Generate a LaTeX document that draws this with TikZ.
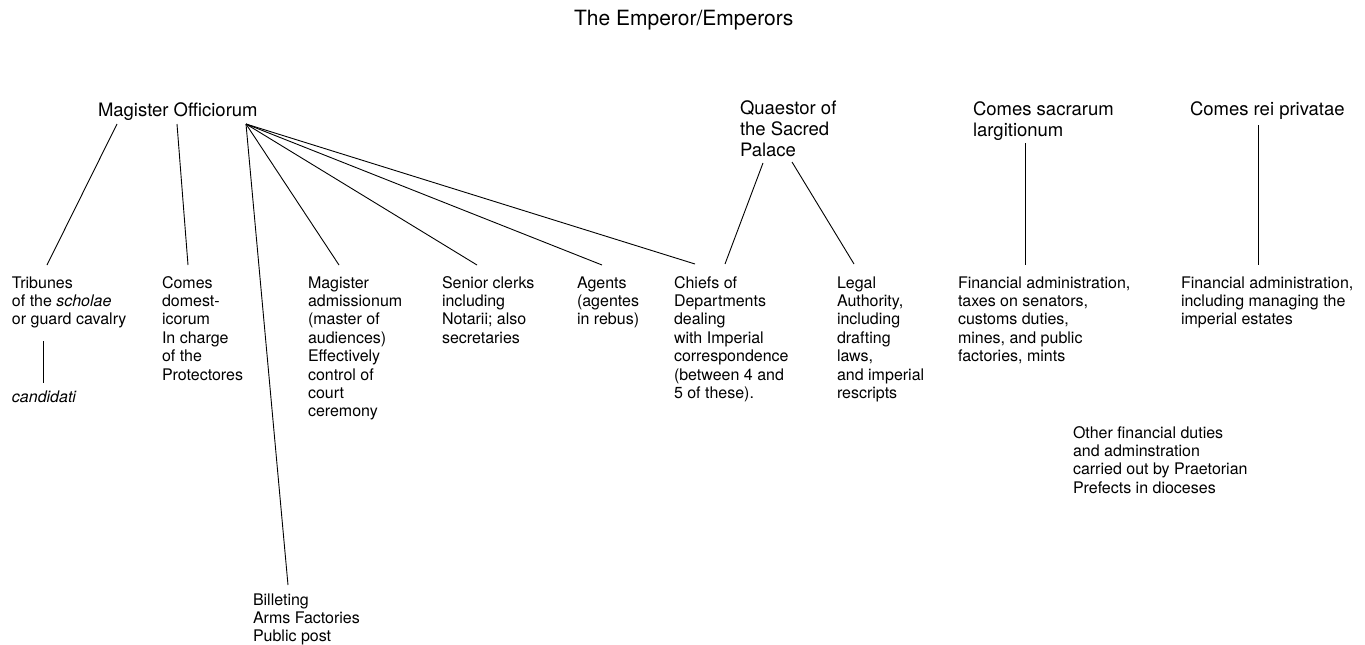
\documentclass[tikz,border=0pt]{standalone}
\usepackage{fontspec}
\setmainfont{TeX Gyre Heros}
% a left-aligned block of lines whose baseline is that of its first line
\newcommand\txtstack[1]{\begin{tabular}[t]{@{}l@{}}#1\end{tabular}}
\begin{document}
\begin{tikzpicture}[x=1pt,y=-1pt,
  every node/.style={inner sep=0pt,outer sep=0pt,anchor=base west,text=black},
  headtxt/.style={font=\fontsize{18.5}{21.3}\selectfont},
  titletxt/.style={font=\fontsize{21}{24}\selectfont},
  bodytxt/.style={font=\fontsize{16}{18.4}\selectfont},
  link/.style={draw=black,line width=0.9pt}]
\useasboundingbox (0,0) rectangle (1365,645);

% top of the hierarchy
\node[titletxt] (emp) at (574,25) {The Emperor/Emperors};

% chief officials
\node[headtxt] (mo)  at (98,116)   {Magister Officiorum};
\node[headtxt] (qsp) at (740,114)  {\txtstack{Quaestor of\\the Sacred\\Palace}};
\node[headtxt] (csl) at (973,115)  {\txtstack{Comes sacrarum\\largitionum}};
\node[headtxt] (crp) at (1190,115) {Comes rei privatae};

% departments and duties
\node[bodytxt] (tri)  at (12,288)  {\txtstack{Tribunes\\of the \textit{scholae}\\or guard cavalry}};
\node[bodytxt] (cand) at (12,402)  {\textit{candidati}};
\node[bodytxt] (cdom) at (162,288) {\txtstack{Comes\\domest-\\icorum\\In charge\\of the\\Protectores}};
\node[bodytxt] (madm) at (308,288) {\txtstack{Magister\\admissionum\\(master of\\audiences)\\Effectively\\control of\\court\\ceremony}};
\node[bodytxt] (bil)  at (253,605) {\txtstack{Billeting\\Arms Factories\\Public post}};
\node[bodytxt] (sen)  at (442,288) {\txtstack{Senior clerks\\including\\Notarii; also\\secretaries}};
\node[bodytxt] (agt)  at (577,288) {\txtstack{Agents\\(agentes\\in rebus)}};
\node[bodytxt] (chf)  at (674,288) {\txtstack{Chiefs of\\Departments\\dealing\\with Imperial\\correspondence\\(between 4 and\\5 of these).}};
\node[bodytxt] (leg)  at (837,288) {\txtstack{Legal\\Authority,\\including\\drafting\\laws,\\and imperial\\rescripts}};
\node[bodytxt] (fin1) at (958,288) {\txtstack{Financial administration,\\taxes on senators,\\customs duties,\\mines, and public\\factories, mints}};
\node[bodytxt] (fin2) at (1181,288) {\txtstack{Financial administration,\\including managing the\\imperial estates}};
\node[bodytxt] (oth)  at (1073,438) {\txtstack{Other financial duties\\and adminstration\\carried out by Praetorian\\Prefects in dioceses}};

% connector end points
\coordinate (mo-l)   at (117,124);
\coordinate (mo-m)   at (177,124);
\coordinate (mo-hub) at (246,124);
\coordinate (tri-t)  at (47,265);
\coordinate (tri-b)  at (43,341);
\coordinate (cand-t) at (43,383);
\coordinate (cdom-t) at (188,265);
\coordinate (madm-t) at (339,265);
\coordinate (bil-t)  at (288,585);
\coordinate (sen-t)  at (477,265);
\coordinate (agt-t)  at (602,265);
\coordinate (chf-t)  at (695,264);
\coordinate (chf-q)  at (725,264);
\coordinate (qsp-l)  at (763,163);
\coordinate (qsp-r)  at (792,162);
\coordinate (leg-t)  at (854,264);
\coordinate (csl-b)  at (1025,143);
\coordinate (fin1-t) at (1025,265);
\coordinate (crp-b)  at (1258,125);
\coordinate (fin2-t) at (1258,265);

% connectors
\draw[link] (mo-l) -- (tri-t);
\draw[link] (mo-m) -- (cdom-t);
\draw[link] (mo-hub) -- (bil-t);
\draw[link] (mo-hub) -- (madm-t);
\draw[link] (mo-hub) -- (sen-t);
\draw[link] (mo-hub) -- (agt-t);
\draw[link] (mo-hub) -- (chf-t);
\draw[link] (tri-b) -- (cand-t);
\draw[link] (qsp-l) -- (chf-q);
\draw[link] (qsp-r) -- (leg-t);
\draw[link] (csl-b) -- (fin1-t);
\draw[link] (crp-b) -- (fin2-t);
\end{tikzpicture}
\end{document}
